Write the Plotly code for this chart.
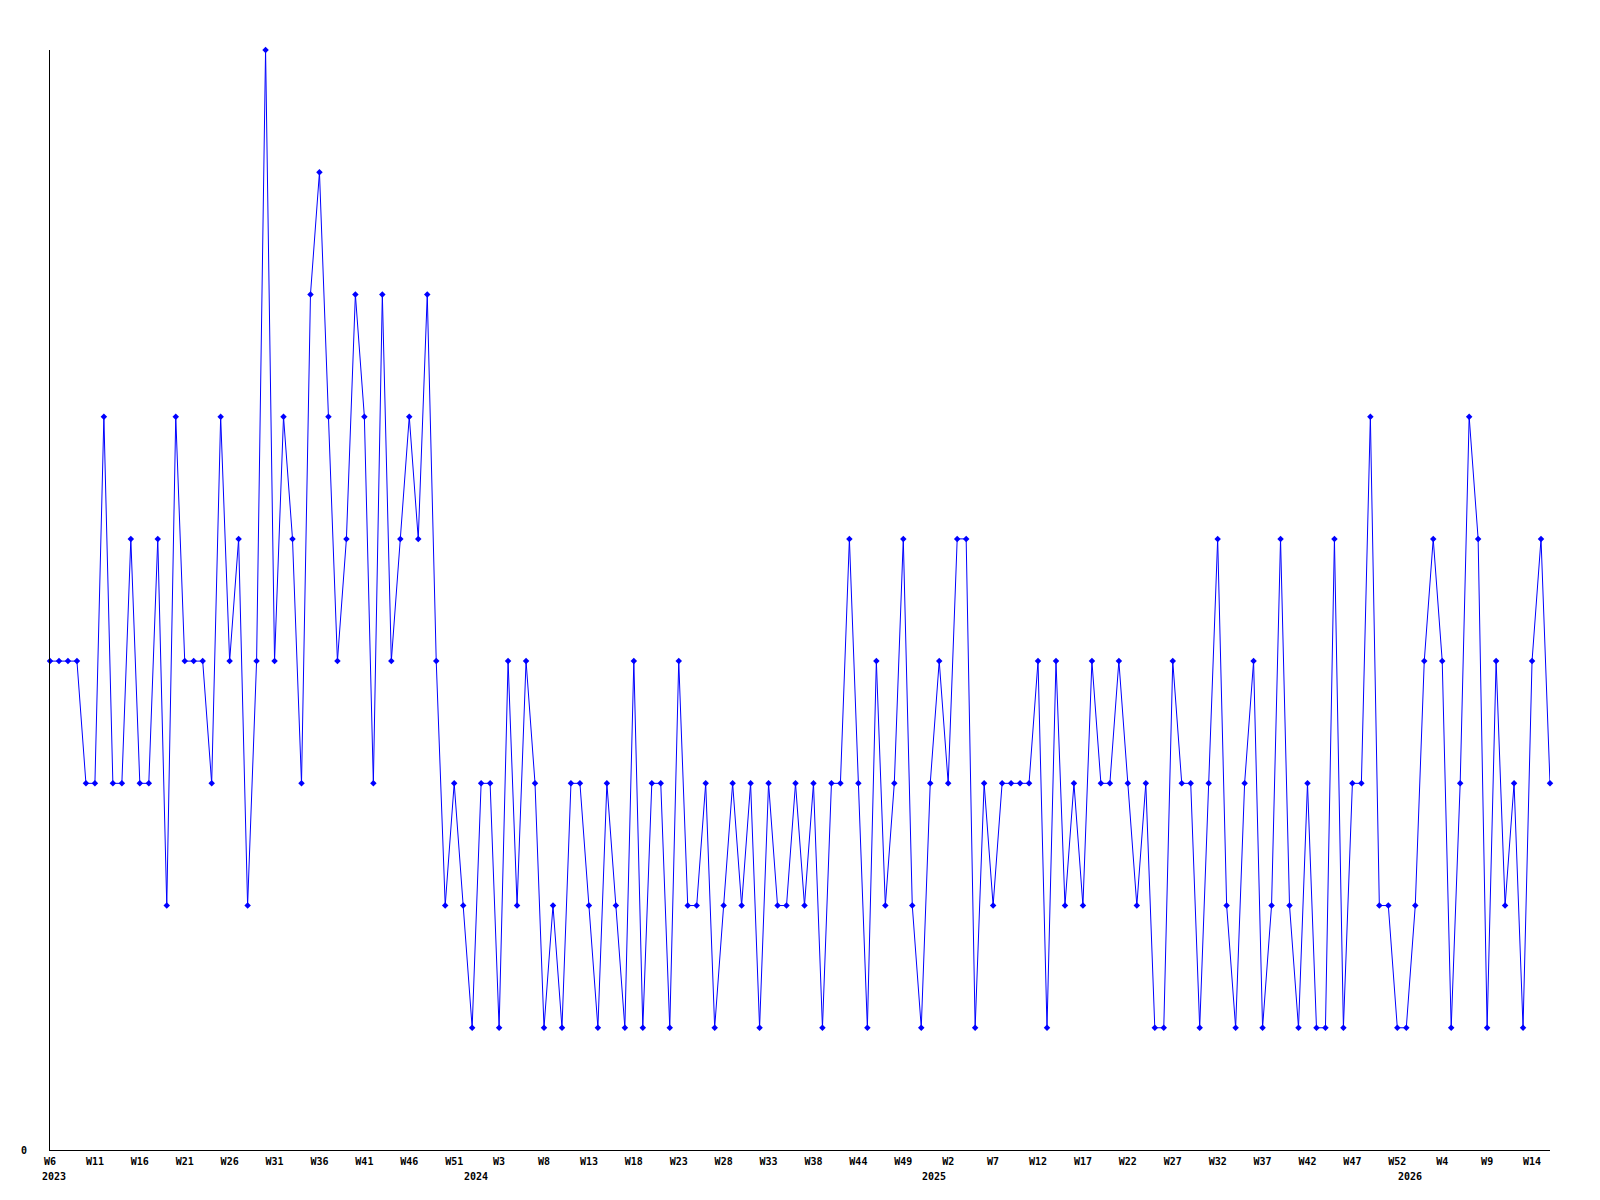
import plotly.graph_objects as go

# Weekly values, 2023 W6 ... 2026 W16 (168 weeks)
values = [
    4, 4, 4, 4, 3, 3, 6, 3, 3, 5, 3, 3, 5, 2, 6, 4, 4, 4, 3, 6, 4, 5,
    2, 4, 9, 4, 6, 5, 3, 7, 8, 6, 4, 5, 7, 6, 3, 7, 4, 5, 6, 5, 7,
    4, 2, 3, 2, 1, 3, 3, 1, 4, 2, 4, 3, 1, 2, 1, 3, 3, 2, 1, 3, 2,
    1, 4, 1, 3, 3, 1, 4, 2, 2, 3, 1, 2, 3, 2, 3, 1, 3, 2, 2, 3, 2,
    3, 1, 3, 3, 5, 3, 1, 4, 2, 3, 5, 2, 1, 3, 4, 3, 5, 5, 1, 3, 2,
    3, 3, 3, 3, 4, 1, 4, 2, 3, 2, 4, 3, 3, 4, 3, 2, 3, 1, 1, 4, 3, 3,
    1, 3, 5, 2, 1, 3, 4, 1, 2, 5, 2, 1, 3, 1, 1, 5, 1, 3, 3, 6, 2,
    2, 1, 1, 2, 4, 5, 4, 1, 3, 6, 5, 1, 4, 2, 3, 1, 4, 5, 3,
]

# Axis tick labels (one every 5 weeks)
tick_labels = [
    "W6", "W11", "W16", "W21", "W26", "W31", "W36", "W41", "W46", "W51",
    "W3", "W8", "W13", "W18", "W23", "W28", "W33", "W38", "W44", "W49",
    "W2", "W7", "W12", "W17", "W22", "W27", "W32", "W37", "W42", "W47",
    "W52", "W4", "W9", "W14",
]
tick_step = 5

# Year labels and the week index where each year begins
years = ["2023", "2024", "2025", "2026"]
year_start = [0, 47, 98, 151]

x = list(range(len(values)))
tickvals = [i * tick_step for i in range(len(tick_labels))]

font_family = "DejaVu Sans Mono"

fig = go.Figure()
fig.add_trace(go.Scatter(
    x=x, y=values, mode="lines+markers",
    line=dict(color="#0000ff", width=1),
    marker=dict(symbol="diamond", size=5, color="#0000ff"),
    cliponaxis=False,
    showlegend=False,
))

for yr, xs in zip(years, year_start):
    fig.add_annotation(
        x=xs + 0.4, y=-0.0245, xref="x", yref="paper",
        text=yr, showarrow=False, xanchor="center", yanchor="middle",
        font=dict(family=font_family, size=10, color="black", weight="bold"),
    )

fig.update_layout(
    width=1600, height=1200,
    margin=dict(l=50, r=50, t=50, b=50),
    paper_bgcolor="white", plot_bgcolor="white",
    font=dict(family=font_family, size=10, color="black", weight="bold"),
    xaxis=dict(
        range=[0, len(values) - 1],
        tickmode="array", tickvals=tickvals, ticktext=tick_labels,
        showgrid=False, zeroline=False,
        showline=True, linecolor="black", linewidth=1,
        ticks="", ticklabelstandoff=2,
        tickfont=dict(family=font_family, size=10, color="black", weight="bold"),
    ),
    yaxis=dict(
        range=[0, 9],
        tickmode="array", tickvals=[0], ticktext=["0"],
        showgrid=False, zeroline=False,
        showline=True, linecolor="black", linewidth=1,
        ticks="", ticklabelstandoff=20,
        tickfont=dict(family=font_family, size=10, color="black", weight="bold"),
    ),
)

fig.write_html(
    "out.html",
    config={"displayModeBar": False},
    post_script="document.body.style.margin='0';document.body.style.padding='0';",
)
